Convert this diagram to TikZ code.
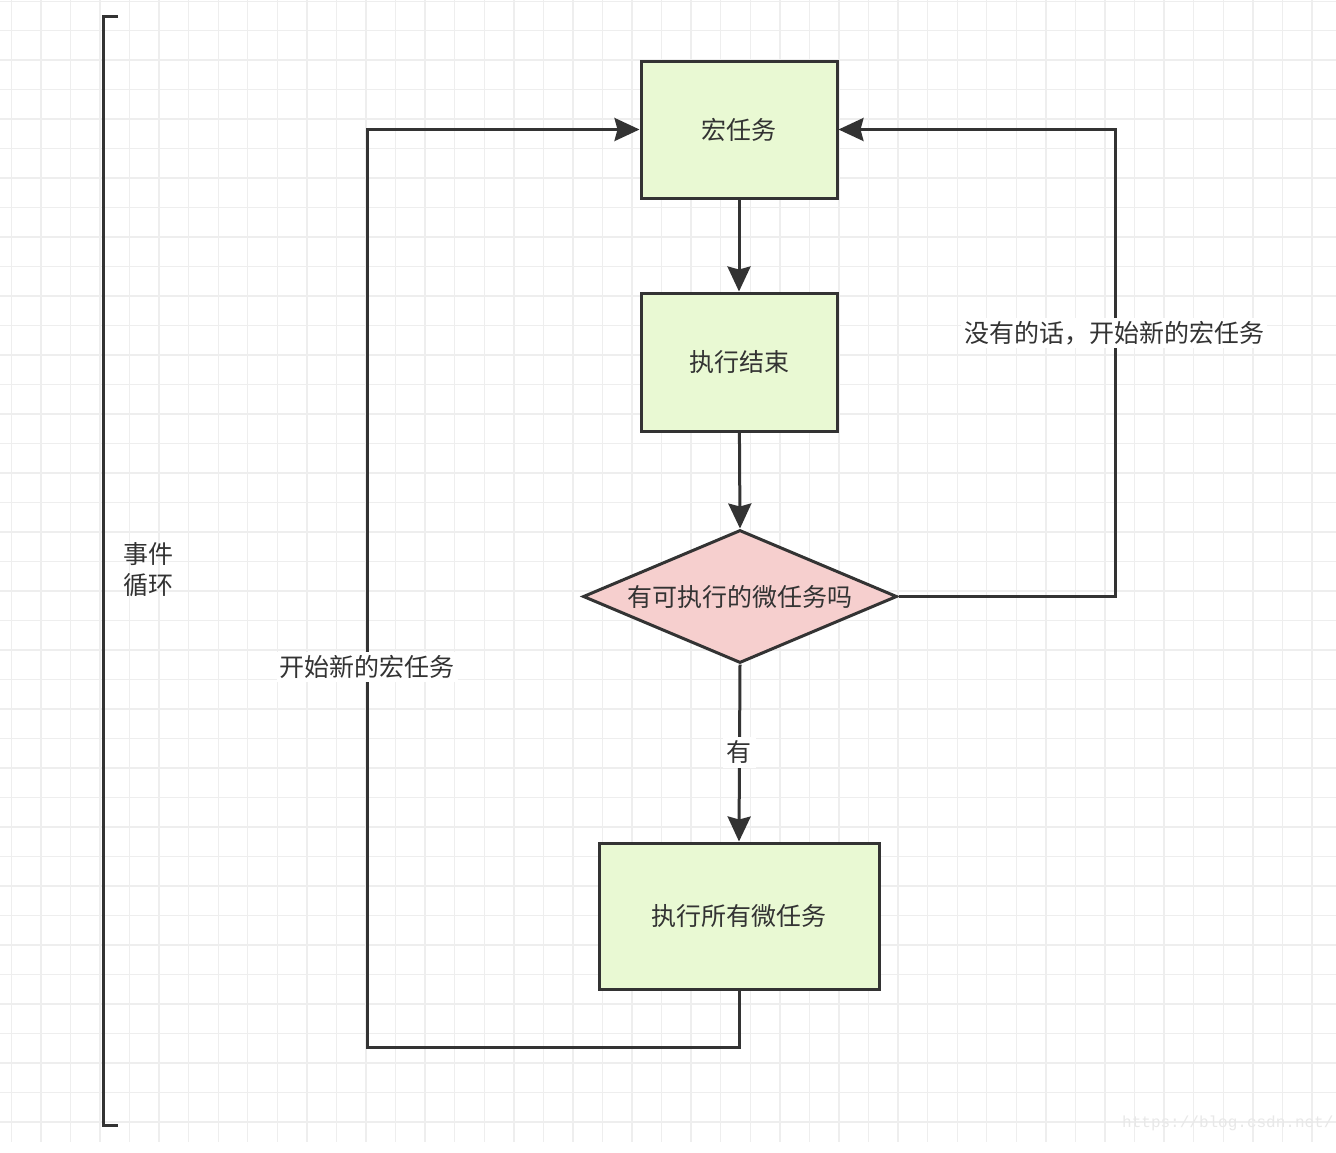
\documentclass[tikz,border=0pt]{standalone}
\usepackage{fontspec}
\newfontfamily\cjk{Noto Sans CJK SC}
\newfontfamily\wmfont{Liberation Mono}
\usetikzlibrary{arrows.meta,shapes.geometric}
\definecolor{ink}{HTML}{333333}
\definecolor{boxgreen}{HTML}{E9F9D3}
\definecolor{boxpink}{HTML}{F6CFCE}
\definecolor{gridline}{HTML}{EEEEEE}
\tikzset{
  lbl/.style={font=\cjk\fontsize{25}{31}\selectfont, text=ink, inner sep=1pt},
  taskbox/.style={draw=ink, line width=3pt, fill=boxgreen, inner sep=0pt},
  decision/.style={diamond, draw=ink, line width=3pt, fill=boxpink, inner sep=0pt,
    minimum width=314pt, minimum height=133pt, aspect=2.36},
  flow/.style={draw=ink, line width=3pt,
    -{Stealth[length=25pt, width=23pt, inset=3pt]}},
  wire/.style={draw=ink, line width=3pt},
  onwire/.style={lbl, fill=white, inner sep=3pt},
}
\begin{document}
\begin{tikzpicture}[x=1pt, y=-1pt]
  % page and background grid
  \useasboundingbox (0,0) rectangle (1336,1152);
  \fill[white] (0,0) rectangle (1336,1152);
  \foreach \i in {0,...,44} {
    \draw[gridline, line width=1.4pt] ({11.3+29.56*\i},0) -- ({11.3+29.56*\i},1142);
  }
  \foreach \j in {0,...,38} {
    \draw[gridline, line width=1.4pt] (0,{1.2+29.49*\j}) -- (1336,{1.2+29.49*\j});
  }

  % bracket marking the whole loop
  \coordinate (brTop) at (118,16);
  \coordinate (brBot) at (118,1125);
  \draw[wire] (brTop) -- (103,16) -- (103,1125) -- (brBot);
  \node[lbl, align=left, anchor=west] (loopname) at (122,570) {事件\\循环};

  % flow nodes
  \node[taskbox, minimum width=196pt, minimum height=137pt] (macro) at (739,129.5) {};
  \node[lbl] (macrot) at (macro) {宏任务};
  \node[taskbox, minimum width=196pt, minimum height=138pt] (done) at (739,362) {};
  \node[lbl] (donet) at (done) {执行结束};
  \node[decision] (check) at (740,596.5) {};
  \node[lbl] (checkt) at (check) {有可执行的微任务吗};
  \node[taskbox, minimum width=280pt, minimum height=146pt] (micro) at (739,916) {};
  \node[lbl] (microt) at (micro) {执行所有微任务};

  % loop corners
  \coordinate (leftBot) at (367,1047);
  \coordinate (rightTop) at (1115,129.5);

  % connectors
  \draw[flow] (macro) -- (done);
  \draw[flow] (done) -- (check.north);
  \draw[flow] (check.south) -- (micro.north);
  \draw[flow] (micro.south) |- (leftBot) |- (macro.west);
  \draw[flow] (check.east) -| (rightTop) -- (macro.east);

  % connector labels
  \node[onwire, inner sep=4pt] (yes) at (739,752) {有};
  \node[onwire] (restartL) at (367,667) {开始新的宏任务};
  \node[onwire] (restartR) at (1114,333) {没有的话，开始新的宏任务};

  % site address in the corner
  \node[font=\wmfont\fontsize{16}{18}\selectfont, text=black!9, anchor=base west, inner sep=0pt]
    (site) at (1122,1127) {https://blog.csdn.net/};
\end{tikzpicture}
\end{document}
